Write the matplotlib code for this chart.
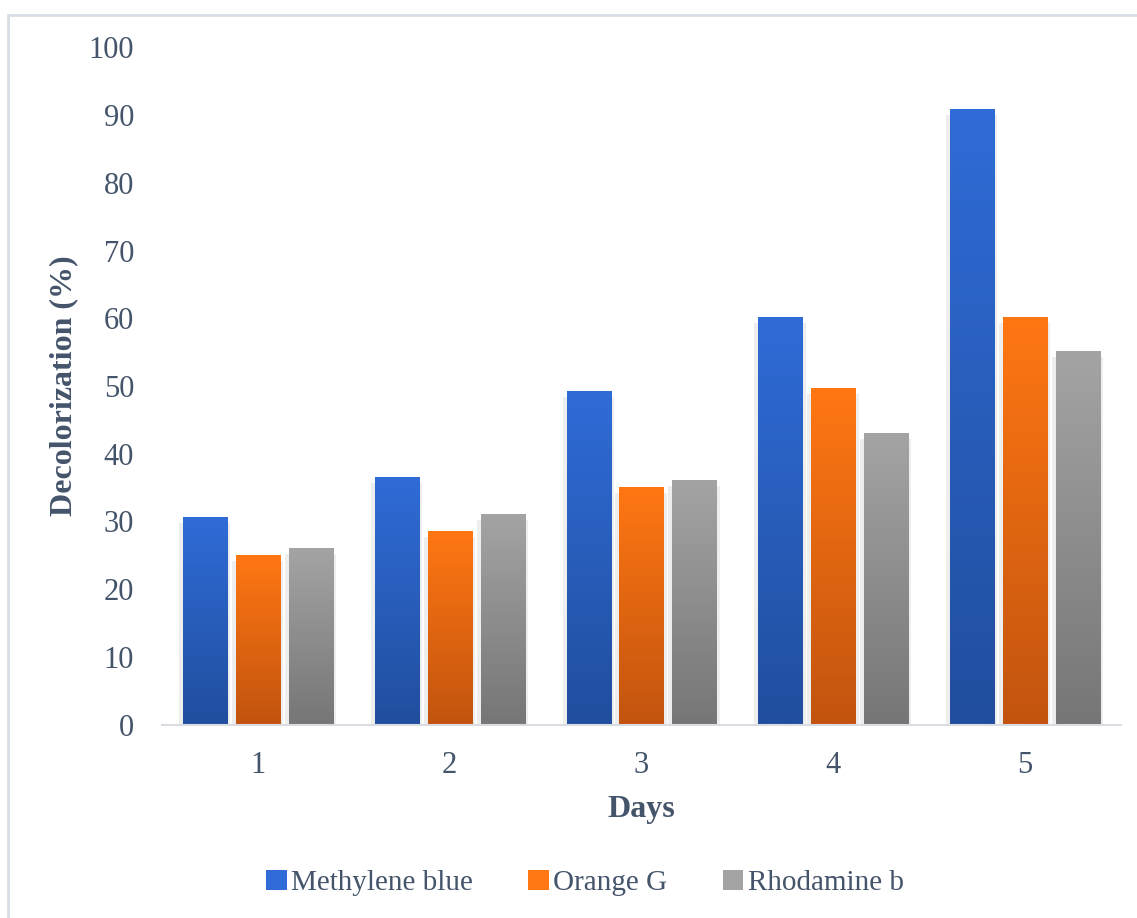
import numpy as np
import matplotlib.pyplot as plt
import matplotlib.transforms as mtransforms
from matplotlib.colors import LinearSegmentedColormap
from matplotlib.patches import Rectangle, Patch

plt.rcParams['font.family'] = ['Liberation Serif', 'DejaVu Serif']

days = ['1', '2', '3', '4', '5']
series_names = ['Methylene blue', 'Orange G', 'Rhodamine b']
methylene_blue = [30.5, 36.4, 49.1, 60.1, 90.7]
orange_g = [24.9, 28.5, 34.9, 49.6, 60.1]
rhodamine_b = [25.9, 30.9, 35.9, 42.9, 55.0]
yticks = [0, 10, 20, 30, 40, 50, 60, 70, 80, 90, 100]

# (top colour, bottom colour) for each series gradient
grads = [('#2F6CD7', '#214E9E'), ('#FF7713', '#C2540F'), ('#A4A4A4', '#767676')]
txt = '#44546A'

fig = plt.figure(figsize=(11.37, 9.18), dpi=100)
# light chart border
fig.patches.append(Rectangle((8 / 1137, -0.01), 1.2, 1 - 15 / 918 + 0.01,
                             transform=fig.transFigure, fill=False,
                             edgecolor='#D9DEE6', linewidth=2))

ax = fig.add_axes([162 / 1137, 1 - 724.5 / 918, 959 / 1137, 677 / 918])

x = np.arange(1, len(days) + 1)
width = 0.23
step = 0.276
grad = np.linspace(0, 1, 256).reshape(-1, 1)

shadow_tf = mtransforms.offset_copy(ax.transData, fig=fig, x=0, y=-5, units='dots')
for i, vals in enumerate([methylene_blue, orange_g, rhodamine_b]):
    cmap = LinearSegmentedColormap.from_list('g%d' % i, [grads[i][1], grads[i][0]])
    bars = ax.bar(x + (i - 1) * step, vals, width, color='none', edgecolor='none')
    for b in bars:
        x0, w, h = b.get_x(), b.get_width(), b.get_height()
        px = 4 / 959 * 5  # a few pixels in data units
        ax.add_patch(Rectangle((x0 - px, 0), w + 1.8 * px, h, transform=shadow_tf,
                               facecolor='#EEEEEE', edgecolor='none', zorder=1))
        ax.imshow(grad, extent=(x0, x0 + w, 0, h), origin='lower', cmap=cmap,
                  aspect='auto', zorder=2, interpolation='bilinear')

ax.set_xlim(0.5, 5.5)
ax.set_ylim(0, 100)
ax.set_xticks(x)
ax.set_xticklabels(days)
ax.set_yticks(yticks)
ax.tick_params(axis='both', length=0, labelsize=22, colors=txt)
ax.tick_params(axis='y', pad=20)
ax.tick_params(axis='x', pad=19)
for s in ['top', 'right', 'left']:
    ax.spines[s].set_visible(False)
ax.spines['bottom'].set_color('#D9DDE3')
ax.spines['bottom'].set_linewidth(1.5)
ax.spines['bottom'].set_zorder(3)

ax.set_ylabel('Decolorization (%)', fontsize=23, fontweight='bold', color=txt)
ax.yaxis.set_label_coords(-(162 - 78) / 959, 0.5)
ax.set_xlabel('Days', fontsize=23, fontweight='bold', color=txt)
ax.xaxis.set_label_coords(0.5, -(795 - 724.5) / 677)

handles = [Patch(facecolor=g[0], edgecolor='none') for g in grads]
fig.legend(handles, series_names, loc='center', bbox_to_anchor=(585 / 1137, 1 - 883 / 918),
           ncol=3, frameon=False, fontsize=21, labelcolor=txt, handlelength=0.7,
           handleheight=0.7, handletextpad=0.15, columnspacing=1.9)

fig.savefig('out.png', dpi=100)
